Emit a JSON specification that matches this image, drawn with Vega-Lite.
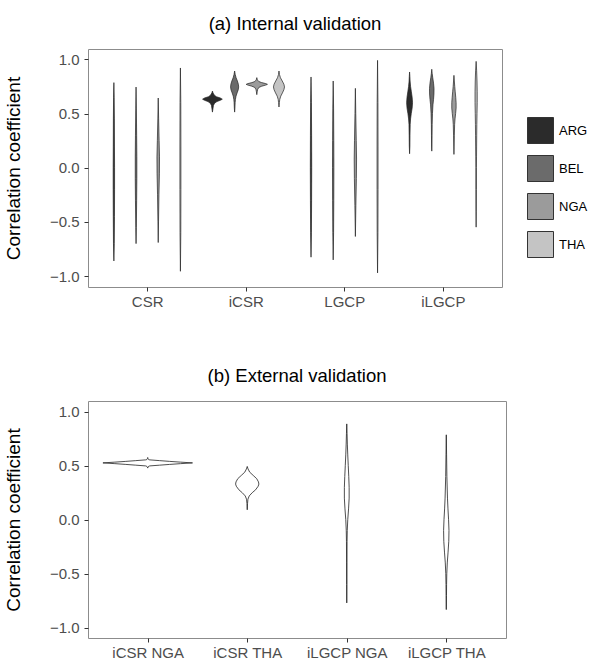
{
  "$schema": "https://vega.github.io/schema/vega-lite/v6.json",
  "padding": {"left": 3, "top": 14, "right": 0, "bottom": 5},
  "spacing": 56,
  "config": {
    "font": "Liberation Sans",
    "view": {"stroke": "#8c8c8c", "strokeWidth": 1},
    "axis": {"domain": false, "grid": false, "tickColor": "#333333", "tickSize": 4, "labelFontSize": 15, "labelColor": "#4d4d4d", "labelPadding": 5, "titleFontSize": 19, "titleFontWeight": "normal", "titleColor": "#000000"},
    "title": {"fontSize": 18.5, "fontWeight": "normal", "color": "#000000", "offset": 16, "frame": "group"}
  },
  "datasets": {
    "top": [
      {"m":"CSR","c":"ARG","v":0.785,"w":0},{"m":"CSR","c":"ARG","v":0.65,"w":0.003},{"m":"CSR","c":"ARG","v":0.45,"w":0.005},{"m":"CSR","c":"ARG","v":0.2,"w":0.006},{"m":"CSR","c":"ARG","v":0.0,"w":0.007},{"m":"CSR","c":"ARG","v":-0.2,"w":0.007},{"m":"CSR","c":"ARG","v":-0.45,"w":0.006},{"m":"CSR","c":"ARG","v":-0.7,"w":0.004},{"m":"CSR","c":"ARG","v":-0.86,"w":0},
      {"m":"CSR","c":"BEL","v":0.744,"w":0},{"m":"CSR","c":"BEL","v":0.55,"w":0.003},{"m":"CSR","c":"BEL","v":0.3,"w":0.006},{"m":"CSR","c":"BEL","v":0.1,"w":0.008},{"m":"CSR","c":"BEL","v":-0.1,"w":0.008},{"m":"CSR","c":"BEL","v":-0.3,"w":0.006},{"m":"CSR","c":"BEL","v":-0.55,"w":0.003},{"m":"CSR","c":"BEL","v":-0.7,"w":0},
      {"m":"CSR","c":"NGA","v":0.643,"w":0},{"m":"CSR","c":"NGA","v":0.45,"w":0.004},{"m":"CSR","c":"NGA","v":0.25,"w":0.009},{"m":"CSR","c":"NGA","v":0.1,"w":0.013},{"m":"CSR","c":"NGA","v":-0.05,"w":0.012},{"m":"CSR","c":"NGA","v":-0.25,"w":0.007},{"m":"CSR","c":"NGA","v":-0.5,"w":0.003},{"m":"CSR","c":"NGA","v":-0.69,"w":0},
      {"m":"CSR","c":"THA","v":0.92,"w":0},{"m":"CSR","c":"THA","v":0.6,"w":0.004},{"m":"CSR","c":"THA","v":0.2,"w":0.005},{"m":"CSR","c":"THA","v":-0.2,"w":0.005},{"m":"CSR","c":"THA","v":-0.6,"w":0.004},{"m":"CSR","c":"THA","v":-0.955,"w":0},
      {"m":"iCSR","c":"ARG","v":0.707,"w":0},{"m":"iCSR","c":"ARG","v":0.69,"w":0.006},{"m":"iCSR","c":"ARG","v":0.67,"w":0.018},{"m":"iCSR","c":"ARG","v":0.655,"w":0.04},{"m":"iCSR","c":"ARG","v":0.643,"w":0.08},{"m":"iCSR","c":"ARG","v":0.632,"w":0.1},{"m":"iCSR","c":"ARG","v":0.622,"w":0.08},{"m":"iCSR","c":"ARG","v":0.61,"w":0.045},{"m":"iCSR","c":"ARG","v":0.595,"w":0.022},{"m":"iCSR","c":"ARG","v":0.575,"w":0.01},{"m":"iCSR","c":"ARG","v":0.55,"w":0.006},{"m":"iCSR","c":"ARG","v":0.513,"w":0},
      {"m":"iCSR","c":"BEL","v":0.892,"w":0},{"m":"iCSR","c":"BEL","v":0.86,"w":0.006},{"m":"iCSR","c":"BEL","v":0.83,"w":0.015},{"m":"iCSR","c":"BEL","v":0.8,"w":0.028},{"m":"iCSR","c":"BEL","v":0.77,"w":0.038},{"m":"iCSR","c":"BEL","v":0.745,"w":0.041},{"m":"iCSR","c":"BEL","v":0.72,"w":0.037},{"m":"iCSR","c":"BEL","v":0.69,"w":0.025},{"m":"iCSR","c":"BEL","v":0.66,"w":0.014},{"m":"iCSR","c":"BEL","v":0.63,"w":0.008},{"m":"iCSR","c":"BEL","v":0.6,"w":0.005},{"m":"iCSR","c":"BEL","v":0.55,"w":0.003},{"m":"iCSR","c":"BEL","v":0.513,"w":0},
      {"m":"iCSR","c":"NGA","v":0.831,"w":0},{"m":"iCSR","c":"NGA","v":0.81,"w":0.006},{"m":"iCSR","c":"NGA","v":0.795,"w":0.02},{"m":"iCSR","c":"NGA","v":0.785,"w":0.05},{"m":"iCSR","c":"NGA","v":0.776,"w":0.09},{"m":"iCSR","c":"NGA","v":0.769,"w":0.108},{"m":"iCSR","c":"NGA","v":0.762,"w":0.09},{"m":"iCSR","c":"NGA","v":0.752,"w":0.05},{"m":"iCSR","c":"NGA","v":0.74,"w":0.02},{"m":"iCSR","c":"NGA","v":0.72,"w":0.008},{"m":"iCSR","c":"NGA","v":0.7,"w":0.004},{"m":"iCSR","c":"NGA","v":0.674,"w":0},
      {"m":"iCSR","c":"THA","v":0.892,"w":0},{"m":"iCSR","c":"THA","v":0.86,"w":0.005},{"m":"iCSR","c":"THA","v":0.83,"w":0.015},{"m":"iCSR","c":"THA","v":0.8,"w":0.033},{"m":"iCSR","c":"THA","v":0.77,"w":0.05},{"m":"iCSR","c":"THA","v":0.745,"w":0.056},{"m":"iCSR","c":"THA","v":0.72,"w":0.05},{"m":"iCSR","c":"THA","v":0.69,"w":0.035},{"m":"iCSR","c":"THA","v":0.66,"w":0.018},{"m":"iCSR","c":"THA","v":0.63,"w":0.008},{"m":"iCSR","c":"THA","v":0.6,"w":0.004},{"m":"iCSR","c":"THA","v":0.56,"w":0},
      {"m":"LGCP","c":"ARG","v":0.837,"w":0},{"m":"LGCP","c":"ARG","v":0.6,"w":0.004},{"m":"LGCP","c":"ARG","v":0.3,"w":0.006},{"m":"LGCP","c":"ARG","v":0.0,"w":0.007},{"m":"LGCP","c":"ARG","v":-0.3,"w":0.006},{"m":"LGCP","c":"ARG","v":-0.6,"w":0.004},{"m":"LGCP","c":"ARG","v":-0.825,"w":0},
      {"m":"LGCP","c":"BEL","v":0.8,"w":0},{"m":"LGCP","c":"BEL","v":0.55,"w":0.004},{"m":"LGCP","c":"BEL","v":0.25,"w":0.006},{"m":"LGCP","c":"BEL","v":0.0,"w":0.007},{"m":"LGCP","c":"BEL","v":-0.3,"w":0.006},{"m":"LGCP","c":"BEL","v":-0.6,"w":0.004},{"m":"LGCP","c":"BEL","v":-0.85,"w":0},
      {"m":"LGCP","c":"NGA","v":0.732,"w":0},{"m":"LGCP","c":"NGA","v":0.5,"w":0.004},{"m":"LGCP","c":"NGA","v":0.25,"w":0.009},{"m":"LGCP","c":"NGA","v":0.08,"w":0.012},{"m":"LGCP","c":"NGA","v":-0.1,"w":0.01},{"m":"LGCP","c":"NGA","v":-0.35,"w":0.005},{"m":"LGCP","c":"NGA","v":-0.634,"w":0},
      {"m":"LGCP","c":"THA","v":0.99,"w":0},{"m":"LGCP","c":"THA","v":0.6,"w":0.004},{"m":"LGCP","c":"THA","v":0.2,"w":0.005},{"m":"LGCP","c":"THA","v":-0.2,"w":0.005},{"m":"LGCP","c":"THA","v":-0.6,"w":0.004},{"m":"LGCP","c":"THA","v":-0.97,"w":0},
      {"m":"iLGCP","c":"ARG","v":0.883,"w":0},{"m":"iLGCP","c":"ARG","v":0.84,"w":0.003},{"m":"iLGCP","c":"ARG","v":0.8,"w":0.005},{"m":"iLGCP","c":"ARG","v":0.75,"w":0.01},{"m":"iLGCP","c":"ARG","v":0.7,"w":0.018},{"m":"iLGCP","c":"ARG","v":0.65,"w":0.026},{"m":"iLGCP","c":"ARG","v":0.6,"w":0.03},{"m":"iLGCP","c":"ARG","v":0.55,"w":0.026},{"m":"iLGCP","c":"ARG","v":0.5,"w":0.017},{"m":"iLGCP","c":"ARG","v":0.45,"w":0.01},{"m":"iLGCP","c":"ARG","v":0.4,"w":0.006},{"m":"iLGCP","c":"ARG","v":0.3,"w":0.004},{"m":"iLGCP","c":"ARG","v":0.2,"w":0.003},{"m":"iLGCP","c":"ARG","v":0.129,"w":0},
      {"m":"iLGCP","c":"BEL","v":0.908,"w":0},{"m":"iLGCP","c":"BEL","v":0.87,"w":0.004},{"m":"iLGCP","c":"BEL","v":0.83,"w":0.01},{"m":"iLGCP","c":"BEL","v":0.78,"w":0.018},{"m":"iLGCP","c":"BEL","v":0.73,"w":0.023},{"m":"iLGCP","c":"BEL","v":0.68,"w":0.022},{"m":"iLGCP","c":"BEL","v":0.63,"w":0.018},{"m":"iLGCP","c":"BEL","v":0.58,"w":0.012},{"m":"iLGCP","c":"BEL","v":0.5,"w":0.007},{"m":"iLGCP","c":"BEL","v":0.4,"w":0.004},{"m":"iLGCP","c":"BEL","v":0.3,"w":0.003},{"m":"iLGCP","c":"BEL","v":0.2,"w":0.002},{"m":"iLGCP","c":"BEL","v":0.153,"w":0},
      {"m":"iLGCP","c":"NGA","v":0.852,"w":0},{"m":"iLGCP","c":"NGA","v":0.8,"w":0.004},{"m":"iLGCP","c":"NGA","v":0.75,"w":0.008},{"m":"iLGCP","c":"NGA","v":0.7,"w":0.013},{"m":"iLGCP","c":"NGA","v":0.65,"w":0.018},{"m":"iLGCP","c":"NGA","v":0.6,"w":0.022},{"m":"iLGCP","c":"NGA","v":0.55,"w":0.022},{"m":"iLGCP","c":"NGA","v":0.5,"w":0.017},{"m":"iLGCP","c":"NGA","v":0.45,"w":0.011},{"m":"iLGCP","c":"NGA","v":0.4,"w":0.007},{"m":"iLGCP","c":"NGA","v":0.3,"w":0.004},{"m":"iLGCP","c":"NGA","v":0.2,"w":0.002},{"m":"iLGCP","c":"NGA","v":0.123,"w":0},
      {"m":"iLGCP","c":"THA","v":0.981,"w":0},{"m":"iLGCP","c":"THA","v":0.9,"w":0.005},{"m":"iLGCP","c":"THA","v":0.8,"w":0.009},{"m":"iLGCP","c":"THA","v":0.7,"w":0.011},{"m":"iLGCP","c":"THA","v":0.6,"w":0.011},{"m":"iLGCP","c":"THA","v":0.5,"w":0.009},{"m":"iLGCP","c":"THA","v":0.4,"w":0.007},{"m":"iLGCP","c":"THA","v":0.3,"w":0.006},{"m":"iLGCP","c":"THA","v":0.2,"w":0.005},{"m":"iLGCP","c":"THA","v":0.1,"w":0.004},{"m":"iLGCP","c":"THA","v":0.0,"w":0.003},{"m":"iLGCP","c":"THA","v":-0.2,"w":0.003},{"m":"iLGCP","c":"THA","v":-0.4,"w":0.002},{"m":"iLGCP","c":"THA","v":-0.548,"w":0}
    ],
    "bottom": [
      {"g":"iCSR NGA","v":0.576,"w":0},{"g":"iCSR NGA","v":0.564,"w":0.004},{"g":"iCSR NGA","v":0.556,"w":0.01},{"g":"iCSR NGA","v":0.554,"w":0.02},{"g":"iCSR NGA","v":0.547,"w":0.12},{"g":"iCSR NGA","v":0.54,"w":0.22},{"g":"iCSR NGA","v":0.533,"w":0.33},{"g":"iCSR NGA","v":0.526,"w":0.45},{"g":"iCSR NGA","v":0.519,"w":0.33},{"g":"iCSR NGA","v":0.512,"w":0.22},{"g":"iCSR NGA","v":0.505,"w":0.12},{"g":"iCSR NGA","v":0.498,"w":0.02},{"g":"iCSR NGA","v":0.495,"w":0.01},{"g":"iCSR NGA","v":0.487,"w":0.004},{"g":"iCSR NGA","v":0.478,"w":0},
      {"g":"iCSR THA","v":0.493,"w":0},{"g":"iCSR THA","v":0.47,"w":0.008},{"g":"iCSR THA","v":0.44,"w":0.025},{"g":"iCSR THA","v":0.41,"w":0.06},{"g":"iCSR THA","v":0.38,"w":0.095},{"g":"iCSR THA","v":0.35,"w":0.113},{"g":"iCSR THA","v":0.33,"w":0.117},{"g":"iCSR THA","v":0.31,"w":0.11},{"g":"iCSR THA","v":0.277,"w":0.084},{"g":"iCSR THA","v":0.25,"w":0.05},{"g":"iCSR THA","v":0.22,"w":0.02},{"g":"iCSR THA","v":0.19,"w":0.007},{"g":"iCSR THA","v":0.15,"w":0.003},{"g":"iCSR THA","v":0.092,"w":0},
      {"g":"iLGCP NGA","v":0.887,"w":0},{"g":"iLGCP NGA","v":0.8,"w":0.003},{"g":"iLGCP NGA","v":0.7,"w":0.006},{"g":"iLGCP NGA","v":0.6,"w":0.01},{"g":"iLGCP NGA","v":0.5,"w":0.015},{"g":"iLGCP NGA","v":0.4,"w":0.02},{"g":"iLGCP NGA","v":0.3,"w":0.024},{"g":"iLGCP NGA","v":0.2,"w":0.024},{"g":"iLGCP NGA","v":0.1,"w":0.018},{"g":"iLGCP NGA","v":0.0,"w":0.01},{"g":"iLGCP NGA","v":-0.1,"w":0.005},{"g":"iLGCP NGA","v":-0.2,"w":0.003},{"g":"iLGCP NGA","v":-0.4,"w":0.002},{"g":"iLGCP NGA","v":-0.6,"w":0.0015},{"g":"iLGCP NGA","v":-0.77,"w":0},
      {"g":"iLGCP THA","v":0.786,"w":0},{"g":"iLGCP THA","v":0.6,"w":0.003},{"g":"iLGCP THA","v":0.4,"w":0.006},{"g":"iLGCP THA","v":0.2,"w":0.012},{"g":"iLGCP THA","v":0.1,"w":0.017},{"g":"iLGCP THA","v":0.0,"w":0.023},{"g":"iLGCP THA","v":-0.1,"w":0.027},{"g":"iLGCP THA","v":-0.2,"w":0.025},{"g":"iLGCP THA","v":-0.3,"w":0.018},{"g":"iLGCP THA","v":-0.4,"w":0.01},{"g":"iLGCP THA","v":-0.5,"w":0.005},{"g":"iLGCP THA","v":-0.6,"w":0.003},{"g":"iLGCP THA","v":-0.7,"w":0.002},{"g":"iLGCP THA","v":-0.832,"w":0}
    ]
  },
  "vconcat": [
    {
      "title": "(a) Internal validation",
      "width": 414,
      "height": 238,
      "data": {"name": "top"},
      "transform": [
        {"calculate": "indexof(['CSR','iCSR','LGCP','iLGCP'], datum.m) + 1 + (indexof(['ARG','BEL','NGA','THA'], datum.c) - 1.5) * 0.225", "as": "ctr"},
        {"calculate": "datum.ctr - datum.w", "as": "lo"},
        {"calculate": "datum.ctr + datum.w", "as": "hi"}
      ],
      "mark": {"type": "area", "orient": "horizontal", "stroke": "#222222", "strokeWidth": 0.7, "opacity": 1},
      "encoding": {
        "y": {"field": "v", "type": "quantitative", "scale": {"domain": [-1.1, 1.095], "nice": false, "zero": false},
              "axis": {"values": [-1, -0.5, 0, 0.5, 1], "format": ".1f", "title": "Correlation coefficient", "titlePadding": 26}},
        "x": {"field": "lo", "type": "quantitative", "scale": {"domain": [0.4, 4.6], "nice": false, "zero": false},
              "axis": {"values": [1, 2, 3, 4], "labelExpr": "['CSR','iCSR','LGCP','iLGCP'][datum.value - 1]", "title": null, "labelPadding": 3}},
        "x2": {"field": "hi"},
        "color": {"field": "c", "type": "nominal",
                  "scale": {"domain": ["ARG", "BEL", "NGA", "THA"], "range": ["#2b2b2b", "#6b6b6b", "#9b9b9b", "#c4c4c4"]},
                  "legend": {"title": null, "orient": "none", "legendX": 439, "legendY": 68, "padding": 0, "symbolType": "square", "symbolSize": 676, "symbolStrokeColor": "#333333", "symbolStrokeWidth": 1, "symbolOpacity": 1, "rowPadding": 7, "labelFontSize": 13, "labelColor": "#000000", "labelOffset": 5}},
        "detail": {"field": "m"}
      }
    },
    {
      "title": "(b) External validation",
      "width": 418,
      "height": 237,
      "data": {"name": "bottom"},
      "transform": [
        {"calculate": "indexof(['iCSR NGA','iCSR THA','iLGCP NGA','iLGCP THA'], datum.g) + 1", "as": "ctr"},
        {"calculate": "datum.ctr - datum.w", "as": "lo"},
        {"calculate": "datum.ctr + datum.w", "as": "hi"}
      ],
      "mark": {"type": "area", "orient": "horizontal", "fill": "#ffffff", "stroke": "#222222", "strokeWidth": 0.8, "opacity": 1},
      "encoding": {
        "y": {"field": "v", "type": "quantitative", "scale": {"domain": [-1.095, 1.099], "nice": false, "zero": false},
              "axis": {"values": [-1, -0.5, 0, 0.5, 1], "format": ".1f", "title": "Correlation coefficient", "titlePadding": 26}},
        "x": {"field": "lo", "type": "quantitative", "scale": {"domain": [0.4, 4.6], "nice": false, "zero": false},
              "axis": {"values": [1, 2, 3, 4], "labelExpr": "['iCSR NGA','iCSR THA','iLGCP NGA','iLGCP THA'][datum.value - 1]", "title": null, "labelPadding": 3}},
        "x2": {"field": "hi"},
        "detail": {"field": "g"}
      }
    }
  ]
}
